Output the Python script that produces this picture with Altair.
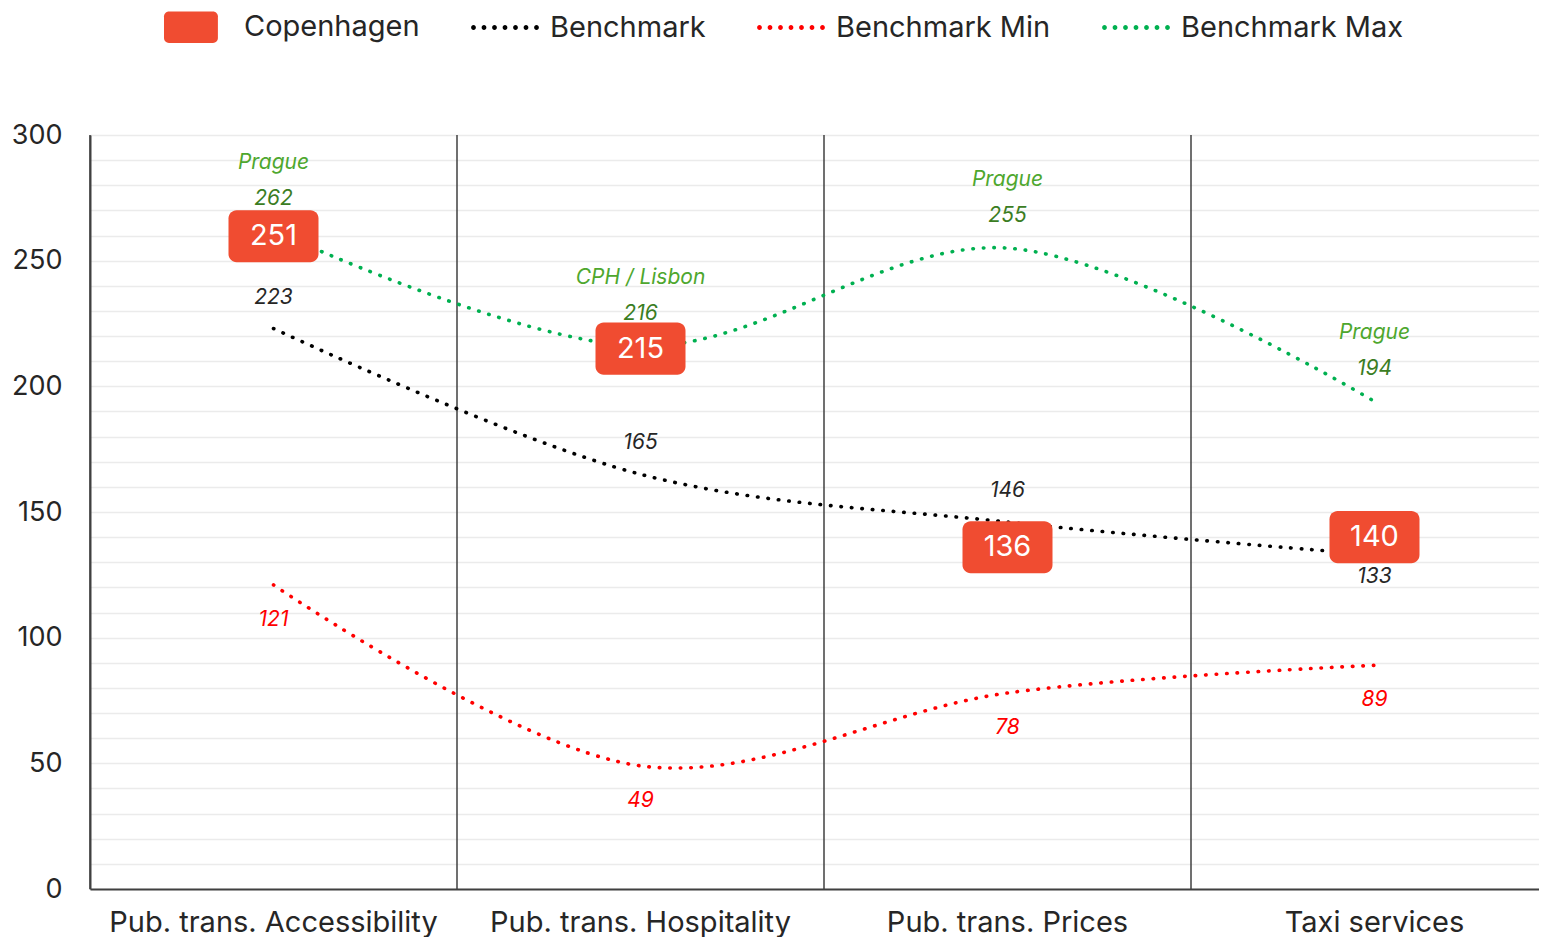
import altair as alt
import pandas as pd

# ---------------- data ----------------
categories = ["Pub. trans. Accessibility", "Pub. trans. Hospitality", "Pub. trans. Prices", "Taxi services"]
copenhagen = [251, 215, 136, 140]
benchmark = [223, 165, 146, 133]
bench_min = [121, 49, 78, 89]
bench_max = [262, 216, 255, 194]
max_leader = ["Prague", "CPH / Lisbon", "Prague", "Prague"]
series_names = ["Copenhagen", "Benchmark", "Benchmark Min", "Benchmark Max"]
y_ticks = list(range(0, 301, 10))

wide = pd.DataFrame({
    "category": categories,
    "cph": copenhagen,
    "bench": benchmark,
    "bmin": bench_min,
    "bmax": bench_max,
    "leader": max_leader,
})
legend_df = pd.DataFrame({"series": series_names})

# ---------------- style ----------------
FONT = "Inter"
TXT = "#262626"
AXIS_DARK = "#404040"
CPH_RED = "#F04C31"
GREEN = "#00B050"
RED = "#FF0000"
PLOT_W = 1449
BAND_RANGE = 1468
PLOT_H = 754

BOX_PATH = ("M -0.82,-0.578 L 0.82,-0.578 A 0.18 0.18 0 0 1 1,-0.398 L 1,0.398 "
            "A 0.18 0.18 0 0 1 0.82,0.578 L -0.82,0.578 A 0.18 0.18 0 0 1 -1,0.398 "
            "L -1,-0.398 A 0.18 0.18 0 0 1 -0.82,-0.578 Z")
LEG_RECT = ("M -0.86,-0.45 L 0.40,-0.45 A 0.14 0.14 0 0 1 0.54,-0.31 L 0.54,0.31 "
            "A 0.14 0.14 0 0 1 0.40,0.45 L -0.86,0.45 A 0.14 0.14 0 0 1 -1.0,0.31 "
            "L -1.0,-0.31 A 0.14 0.14 0 0 1 -0.86,-0.45 Z")


def dots_path(n=7, r=0.068):
    parts = []
    for i in range(n):
        cx = -0.9 + i * 1.8 / (n - 1)
        parts.append(f"M {cx - r:.3f},0 A {r} {r} 0 1 0 {cx + r:.3f},0 A {r} {r} 0 1 0 {cx - r:.3f},0 Z")
    return " ".join(parts)


DOTS = dots_path()

x_axis = alt.Axis(title=None, labelAngle=0, labelAlign="center", labelBaseline="top",
                  labelFontSize=29, labelFont=FONT, labelColor=TXT,
                  labelPadding=19, ticks=False, domain=True, domainColor=AXIS_DARK, domainWidth=2,
                  grid=False, labelLimit=600, labelOverlap=False)
x_scale = alt.Scale(type="band", domain=categories, range=[0, BAND_RANGE], paddingInner=0, paddingOuter=0)
x_enc = alt.X("category:N", sort=categories, scale=x_scale, axis=x_axis)
y_scale = alt.Scale(domain=[0, 300], nice=False)
y_axis = alt.Axis(title=None, values=y_ticks, labelExpr="datum.value % 50 == 0 ? datum.label : ''",
                  ticks=False, labelFontSize=27, labelFont=FONT, labelColor=TXT, labelPadding=28,
                  labelOverlap=False, grid=True, gridColor="#ebebeb", gridWidth=1.5, domain=True,
                  domainColor=AXIS_DARK, domainWidth=2)


def y_enc(field):
    return alt.Y(f"{field}:Q", scale=y_scale, axis=y_axis)


base = alt.Chart(wide)

# vertical separators at band starts
separators = base.mark_rule(color=AXIS_DARK, strokeWidth=1.5).encode(
    x=alt.X("category:N", sort=categories, scale=x_scale, axis=x_axis, bandPosition=0),
    y=alt.Y(datum=0, scale=y_scale, axis=y_axis),
    y2=alt.datum(300),
)

lines = []
for field, color in [("bench", "#000000"), ("bmin", RED), ("bmax", GREEN)]:
    lines.append(
        base.mark_line(interpolate="catmull-rom", strokeDash=[0.5, 10], strokeCap="round",
                       strokeWidth=3.6, color=color).encode(x=x_enc, y=y_enc(field))
    )

lab = dict(fontStyle="italic", fontSize=21, font=FONT)
bench_lab_up = base.transform_filter(f"datum.category != '{categories[-1]}'").mark_text(
    color=TXT, dy=-31, **lab).encode(x=x_enc, y=y_enc("bench"), text="bench:Q")
bench_lab_dn = base.transform_filter(f"datum.category == '{categories[-1]}'").mark_text(
    color=TXT, dy=22, **lab).encode(x=x_enc, y=y_enc("bench"), text="bench:Q")
min_lab = base.mark_text(color=RED, dy=35, **lab).encode(x=x_enc, y=y_enc("bmin"), text="bmin:Q")
max_lab = base.mark_text(color="#3B7D23", dy=-32, **lab).encode(x=x_enc, y=y_enc("bmax"), text="bmax:Q")
leader_lab = base.mark_text(color="#4EA72E", dy=-68, **lab).encode(x=x_enc, y=y_enc("bmax"), text="leader:N")

first_only = f"datum.category == '{categories[0]}'"
not_first = f"datum.category != '{categories[0]}'"
box_kw = dict(shape=BOX_PATH, size=8100, filled=True, color=CPH_RED, opacity=1, strokeWidth=0)
boxes = base.transform_filter(not_first).mark_point(**box_kw).encode(x=x_enc, y=y_enc("cph"))
box_first = base.transform_filter(first_only).mark_point(yOffset=-22, **box_kw).encode(x=x_enc, y=y_enc("cph"))
box_txt = base.transform_filter(not_first).mark_text(color="white", fontSize=29, font=FONT).encode(
    x=x_enc, y=y_enc("cph"), text="cph:Q")
box_txt_first = base.transform_filter(first_only).mark_text(color="white", fontSize=29, font=FONT, yOffset=-22).encode(
    x=x_enc, y=y_enc("cph"), text="cph:Q")

leg = alt.Legend(orient="none", legendX=74, legendY=-143, direction="horizontal", title=None,
                 symbolSize=4900, labelFontSize=29, labelFont=FONT, labelColor=TXT, labelOffset=10,
                 columnPadding=50, padding=0, symbolOpacity=1, symbolStrokeWidth=0, labelLimit=500)
legend_layer = alt.Chart(legend_df).mark_point(filled=True, opacity=0).encode(
    color=alt.Color("series:N", scale=alt.Scale(domain=series_names,
                                                range=[CPH_RED, "#000000", RED, GREEN]), legend=leg),
    shape=alt.Shape("series:N", scale=alt.Scale(domain=series_names,
                                                range=[LEG_RECT, DOTS, DOTS, DOTS]), legend=leg),
)

chart = alt.layer(
    separators, *lines, bench_lab_up, bench_lab_dn, min_lab, max_lab, leader_lab,
    boxes, box_first, box_txt, box_txt_first, legend_layer,
).properties(
    width=PLOT_W, height=PLOT_H,
    padding={"left": 82, "top": 127, "right": 0, "bottom": 48},
    autosize=alt.AutoSizeParams(type="none"),
).configure_view(stroke=None)

chart.save("out.html", embed_options={"renderer": "svg", "actions": False})
